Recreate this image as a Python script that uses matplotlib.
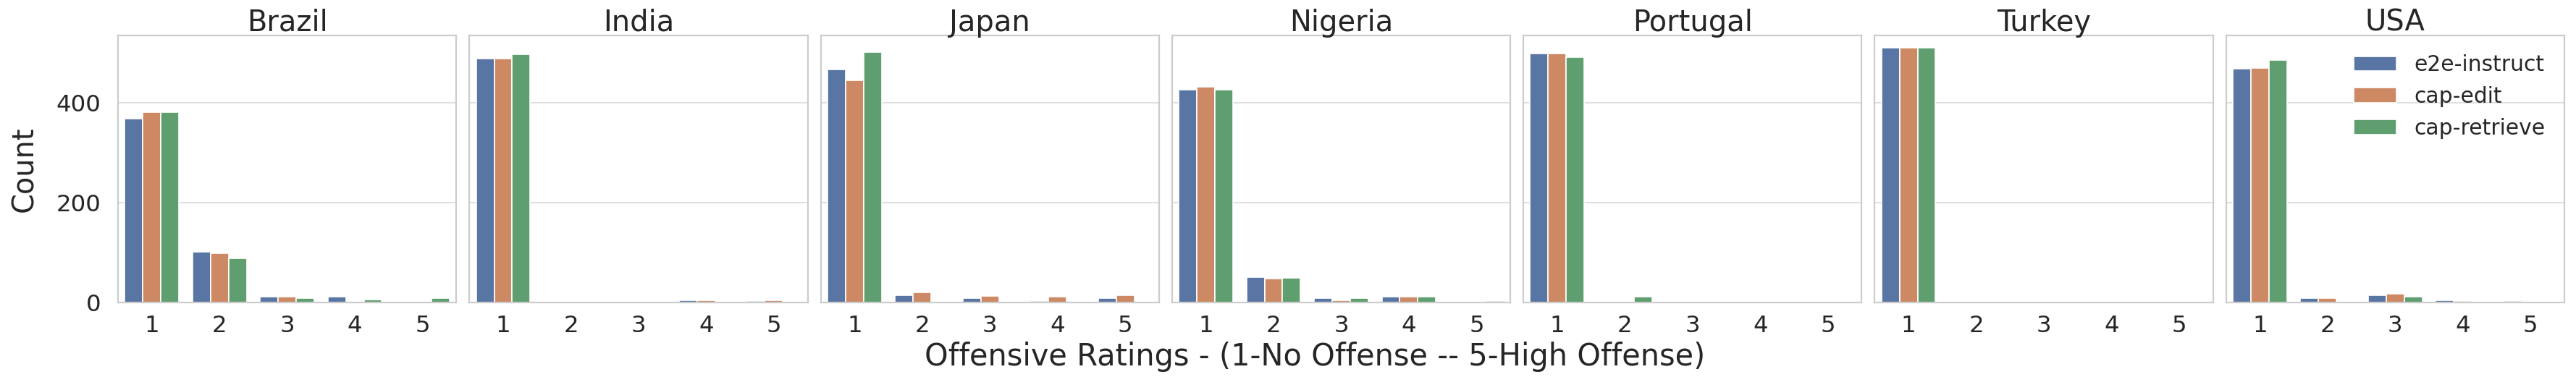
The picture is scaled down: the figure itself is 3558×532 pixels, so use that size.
import matplotlib
matplotlib.use("Agg")
import matplotlib.pyplot as plt
import numpy as np
import seaborn as sns

countries = ["Brazil", "India", "Japan", "Nigeria", "Portugal", "Turkey", "USA"]
ratings = ["1", "2", "3", "4", "5"]
methods = ["e2e-instruct", "cap-edit", "cap-retrieve"]

# counts per country, ratings 1..5
e2e_instruct = [
    [368, 101, 11, 12, 0],
    [489, 0, 0, 5, 3],
    [467, 14, 8, 3, 8],
    [426, 51, 8, 11, 2],
    [499, 0, 0, 0, 0],
    [510, 0, 0, 0, 0],
    [469, 8, 14, 5, 3],
]
cap_edit = [
    [382, 99, 11, 0, 0],
    [489, 0, 0, 5, 5],
    [445, 21, 13, 11, 14],
    [432, 48, 5, 11, 2],
    [499, 2, 0, 0, 0],
    [510, 0, 0, 0, 0],
    [470, 8, 17, 3, 2],
]
cap_retrieve = [
    [382, 88, 9, 6, 8],
    [497, 0, 0, 0, 0],
    [502, 0, 0, 0, 0],
    [426, 49, 9, 11, 3],
    [492, 11, 0, 0, 0],
    [510, 0, 0, 0, 0],
    [486, 2, 11, 2, 0],
]

sns.set_theme(style="whitegrid")
plt.rcParams["font.family"] = ["DejaVu Sans"]

palette = [sns.desaturate(c, 0.75) for c in sns.color_palette("deep", 3)]
series = [e2e_instruct, cap_edit, cap_retrieve]

fig, axes = plt.subplots(1, len(countries), figsize=(35.58, 5.32), dpi=100, sharey=True)
fig.subplots_adjust(left=0.0458, right=0.9955, top=0.9085, bottom=0.2143, wspace=0.0384)

x = np.arange(len(ratings))
width = 0.8 / len(methods)
for i, (ax, country) in enumerate(zip(axes, countries)):
    for j, (name, data) in enumerate(zip(methods, series)):
        ax.bar(x - 0.4 + width * (j + 0.5), data[i], width, color=palette[j],
               edgecolor="white", linewidth=1.2, label=name)
    ax.set_title(country, fontsize=28.8, pad=4.3)
    ax.set_xticks(x)
    ax.set_xticklabels(ratings)
    ax.set_xlim(-0.5, len(ratings) - 0.5)
    ax.grid(axis="x", visible=False)
    ax.grid(axis="y", color="#d9d9d9", linewidth=1.2)
    ax.set_axisbelow(True)
    for s in ax.spines.values():
        s.set_color("#cccccc")
        s.set_linewidth(1.6)
    ax.tick_params(axis="x", labelsize=23.3, pad=6.1)
    ax.tick_params(axis="y", labelsize=23.3, pad=10.8)

axes[0].set_yticks([0, 200, 400])
axes[0].set_ylabel("Count", fontsize=28.7)
axes[0].yaxis.set_label_coords(-0.233, 0.5)
axes[-1].legend(loc="upper right", frameon=False, fontsize=21.4)

fig.text(0.5104, 0.0508, "Offensive Ratings - (1-No Offense -- 5-High Offense)",
         ha="center", va="baseline", fontsize=29.9, color="#262626")

fig.savefig("out.png", dpi=100)
